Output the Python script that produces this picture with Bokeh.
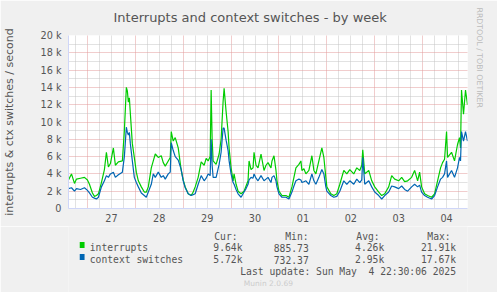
from datetime import datetime, timedelta
from bokeh.plotting import figure
from bokeh.layouts import column
from bokeh.models import FixedTicker, Range1d, Title
from bokeh.core.properties import value
from bokeh.embed import file_html
from bokeh.resources import INLINE

# ---------------- data ----------------
start = datetime(2025, 4, 26, 14, 30)   # left edge of the graph
span_hours = 200

# hours since start
hours = [0, 1.5, 3, 4, 6, 8, 9.5, 10.5, 12, 13,
         14, 15, 16.5, 18, 19, 20, 21, 22.5, 23.5, 25,
         27, 28, 29, 29.5, 30, 30.5, 31, 32, 33, 34,
         35, 36.5, 38, 39, 40, 41.5, 42.5, 43.5, 45, 46.5,
         47.5, 48.5, 50, 51, 51.5, 52.5, 53.5, 55, 56.5, 57.5,
         58.5, 60, 61.5, 62.5, 63.5, 65, 66.5, 68, 69, 70,
         71, 71.5, 72, 72.5, 74, 75.5, 76.5, 77.5, 78, 79,
         80, 80.5, 81.5, 82.5, 83, 84, 85, 86.5, 88, 89,
         90, 90.5, 91.5, 92.5, 93, 94, 95, 96.5, 98, 99,
         100, 101.5, 102, 103, 104, 104.5, 105.5, 107, 109, 110.5,
         112, 113, 114, 115.5, 116.5, 117, 118, 119, 120.5, 122,
         123, 124, 125.5, 127, 128, 129, 129.5, 131.5, 133, 134.5,
         136, 138, 139.5, 141, 143, 144.5, 146, 147, 147.5, 148.5,
         150.5, 152, 153.5, 155.5, 157, 158.5, 160.5, 162, 163.5, 165.5,
         167, 168.5, 170, 172, 173.5, 175, 176, 177, 178.5, 180,
         182, 183.5, 185, 186.5, 187.5, 188.5, 189.5, 190, 192, 193.5,
         195, 196, 196.5, 197, 198, 199, 200]

# thousands per second
interrupts_k = [3.3, 4.0, 2.9, 3.4, 3.5, 3.6, 3.3, 2.8, 1.8, 1.4,
                1.5, 1.7, 3.0, 4.5, 6.5, 4.8, 5.2, 7.0, 5.0, 5.4,
                5.5, 9.0, 14.0, 13.6, 12.3, 12.8, 11.0, 7.5, 5.9, 4.2,
                3.2, 2.5, 1.9, 1.9, 2.5, 4.7, 5.5, 6.3, 5.9, 6.1,
                5.3, 4.9, 5.5, 5.9, 8.9, 7.8, 8.2, 7.0, 4.4, 3.3,
                2.5, 1.7, 1.5, 1.9, 2.5, 3.6, 5.4, 5.0, 5.8, 5.5,
                6.0, 13.7, 8.0, 5.5, 5.1, 6.3, 8.0, 12.4, 13.9, 11.2,
                8.9, 7.0, 4.7, 3.2, 4.0, 2.8, 2.0, 1.7, 2.0, 2.6,
                3.2, 5.5, 4.5, 4.7, 6.5, 5.0, 4.7, 6.3, 4.4, 5.0,
                5.3, 4.7, 5.5, 6.1, 4.4, 3.2, 2.0, 1.5, 1.5, 1.3,
                2.5, 3.6, 4.7, 5.1, 5.5, 4.4, 4.6, 4.0, 4.4, 6.1,
                4.4, 4.0, 5.5, 7.0, 5.9, 3.6, 2.5, 1.7, 1.5, 1.7,
                2.8, 4.4, 4.0, 4.5, 4.0, 4.7, 4.4, 5.0, 6.8, 4.0,
                4.4, 3.2, 2.5, 1.9, 1.5, 1.7, 2.5, 3.8, 3.4, 3.2,
                3.6, 3.1, 3.2, 3.6, 4.4, 3.2, 4.2, 2.5, 1.7, 1.5,
                1.3, 1.7, 3.2, 4.7, 5.3, 5.7, 8.9, 5.9, 6.5, 5.5,
                7.4, 8.2, 7.0, 13.7, 10.9, 13.7, 12.0]

context_switches_k = [2.3, 2.4, 2.0, 2.3, 2.2, 2.4, 2.1, 1.8, 1.3, 1.2,
                      1.1, 1.3, 2.5, 3.2, 3.8, 3.6, 4.0, 4.2, 3.6, 3.9,
                      4.2, 6.0, 9.4, 8.8, 8.5, 8.8, 7.5, 5.5, 3.6, 3.0,
                      2.5, 1.8, 1.5, 1.3, 1.9, 2.8, 4.0, 3.6, 4.2, 3.6,
                      3.8, 3.4, 4.0, 4.2, 7.6, 6.7, 6.0, 5.6, 4.5, 3.2,
                      2.4, 1.7, 1.5, 1.6, 1.7, 2.8, 3.8, 3.2, 3.5, 4.0,
                      3.8, 8.0, 5.0, 3.6, 3.6, 5.1, 6.5, 9.3, 9.3, 7.9,
                      6.7, 5.5, 4.0, 3.0, 2.8, 2.2, 1.7, 1.3, 1.9, 2.3,
                      2.8, 3.3, 3.6, 3.5, 4.0, 3.5, 3.2, 3.8, 3.2, 3.4,
                      3.6, 3.0, 3.6, 3.8, 3.2, 2.5, 1.7, 1.3, 1.3, 1.1,
                      1.9, 2.6, 3.2, 3.4, 3.3, 3.0, 3.1, 3.2, 2.8, 4.0,
                      3.2, 2.8, 3.6, 4.5, 4.0, 2.5, 2.0, 1.5, 1.3, 1.4,
                      2.0, 3.2, 2.8, 3.2, 2.8, 3.4, 3.0, 3.3, 5.9, 2.8,
                      3.2, 2.5, 1.9, 1.5, 1.1, 1.5, 1.9, 2.6, 2.5, 2.3,
                      2.6, 2.2, 2.0, 2.5, 2.8, 2.5, 2.7, 1.9, 1.5, 1.3,
                      1.1, 1.5, 2.5, 3.4, 3.6, 4.0, 5.5, 3.6, 4.4, 3.6,
                      4.7, 5.9, 5.5, 8.9, 7.8, 8.9, 7.8]

day_dates = [datetime(2025, 4, 27), datetime(2025, 4, 28), datetime(2025, 4, 29),
             datetime(2025, 4, 30), datetime(2025, 5, 1), datetime(2025, 5, 2),
             datetime(2025, 5, 3), datetime(2025, 5, 4)]
day_labels = ["27", "28", "29", "30", "01", "02", "03", "04"]

y_ticks = [0, 2, 4, 6, 8, 10, 12, 14, 16, 18, 20]
y_tick_labels = ["0", "2 k", "4 k", "6 k", "8 k", "10 k", "12 k", "14 k", "16 k", "18 k", "20 k"]

series_names = ["interrupts", "context switches"]
series_colors = ["#00CC00", "#0066B3"]
column_heads = ["Cur:", "Min:", "Avg:", "Max:"]
cur_vals = ["9.64k", "5.72k"]
min_vals = ["885.73", "732.37"]
avg_vals = ["4.26k", "2.95k"]
max_vals = ["21.91k", "17.67k"]

title_text = "Interrupts and context switches - by week"
y_label_text = "interrupts & ctx switches / second"
side_text = "RRDTOOL / TOBI OETIKER"
last_update = "Last update: Sun May \u00a04 22:30:06 2025"
footer_text = "Munin 2.0.69"

# ---------------- derived tick positions (hours since start) ----------------
def h(dt):
    return (dt - start).total_seconds() / 3600.0

noons = [h(d + timedelta(hours=12)) for d in day_dates]
midnights = [h(d) for d in day_dates]
six_hourly = []
for d in [datetime(2025, 4, 26)] + day_dates:
    for off in (6, 12, 18):
        v = h(d + timedelta(hours=off))
        if 0 <= v <= span_hours:
            six_hourly.append(v)

# ---------------- styling ----------------
FONT = "DejaVu Sans"
MONO = "DejaVu Sans Mono"
TXT = "#555555"
AXIS = "#CFD6F8"
BACK = "#F0F0F0"

W = 497
H_MAIN = 226
H_LEG = 292 - H_MAIN

# ---------------- main chart ----------------
p = figure(width=W, height=H_MAIN, x_range=Range1d(0, span_hours), y_range=Range1d(0, 20),
           output_backend="svg", toolbar_location=None, title=title_text,
           min_border_left=67, min_border_right=30, min_border_top=33, min_border_bottom=18,
           background_fill_color="#FFFFFF", border_fill_color=BACK,
           outline_line_color=None)

p.title.align = "left"
p.title.offset = 45
p.title.vertical_align = "top"
p.title.standoff = 18
p.title.text_font = FONT
p.title.text_font_size = "13px"
p.title.text_font_style = "normal"
p.title.text_color = TXT

side = Title(text=side_text, align="left", offset=-28, standoff=15,
             text_font=FONT, text_font_size="7.8px", text_font_style="normal",
             text_color="#BBBBBB")
p.add_layout(side, "right")

# grids
p.xgrid.ticker = FixedTicker(ticks=midnights, minor_ticks=six_hourly)
p.ygrid.ticker = FixedTicker(ticks=y_ticks, minor_ticks=[v + 1 for v in y_ticks[:-1]])
for g in (p.xgrid, p.ygrid):
    g.grid_line_color = "#E39A9A"
    g.grid_line_dash = "1 1"
    g.grid_line_width = 1
    g.minor_grid_line_color = "#C4C4C4"
    g.minor_grid_line_dash = "1 1"
    g.minor_grid_line_width = 1

# axes
p.xaxis.ticker = FixedTicker(ticks=noons)
p.xaxis.major_label_overrides = {n: lab for n, lab in zip(noons, day_labels)}
p.yaxis.ticker = FixedTicker(ticks=y_ticks)
p.yaxis.major_label_overrides = {t: lab for t, lab in zip(y_ticks, y_tick_labels)}
for ax in (p.xaxis, p.yaxis):
    ax.axis_line_color = AXIS
    ax.axis_line_width = 1
    ax.major_tick_line_color = None
    ax.minor_tick_line_color = None
    ax.major_tick_in = 0
    ax.major_tick_out = 0
    ax.minor_tick_in = 0
    ax.minor_tick_out = 0
    ax.major_label_text_font = FONT
    ax.major_label_text_font_size = "9.7px"
    ax.major_label_text_color = TXT
p.xaxis.major_label_standoff = 5
p.yaxis.major_label_standoff = 7
p.yaxis.axis_label = y_label_text
p.yaxis.axis_label_text_font = FONT
p.yaxis.axis_label_text_font_size = "11px"
p.yaxis.axis_label_text_font_style = "normal"
p.yaxis.axis_label_text_color = TXT
p.yaxis.axis_label_standoff = 21

# series
p.line(hours, interrupts_k, line_color=series_colors[0], line_width=1.2)
p.line(hours, context_switches_k, line_color=series_colors[1], line_width=1.2)

# ---------------- legend block (pixel-space figure) ----------------
q = figure(width=W, height=H_LEG, x_range=Range1d(0, W), y_range=Range1d(H_LEG, 0),
           output_backend="svg", toolbar_location=None, title=None,
           x_axis_location=None, y_axis_location=None,
           min_border=0, min_border_left=0, min_border_right=0,
           min_border_top=0, min_border_bottom=0,
           background_fill_color=BACK, border_fill_color=BACK, outline_line_color=None)
q.grid.visible = False

top = H_MAIN
head_y = 235.8 - top
row_y = [247.3 - top, 259 - top]
upd_y = 271 - top
foot_y = 282.5 - top

col_left = [181.5, 270, 358.5, 447]
col_right = [216.7, 299.3, 393.3, 482.7]

q.text(x=col_left, y=[head_y] * 4, text=column_heads, text_font=value(MONO),
       text_font_size="9.7px", text_color=TXT, text_align="left", text_baseline="alphabetic")

q.rect(x=[17, 17], y=[244.5 - top, 256.5 - top], width=6, height=6,
       fill_color=series_colors, line_color=None)
q.text(x=[26.5, 26.5], y=row_y, text=series_names, text_font=value(MONO),
       text_font_size="9.7px", text_color=TXT, text_align="left", text_baseline="alphabetic")
for cx, vals in zip(col_right, [cur_vals, min_vals, avg_vals, max_vals]):
    q.text(x=[cx, cx], y=row_y, text=vals, text_font=value(MONO),
           text_font_size="9.7px", text_color=TXT, text_align="right",
           text_baseline="alphabetic")
q.text(x=[482.7], y=[upd_y], text=[last_update], text_font=value(MONO),
       text_font_size="9.7px", text_color=TXT, text_align="right", text_baseline="alphabetic")
q.text(x=[249], y=[foot_y], text=[footer_text], text_font=value(FONT),
       text_font_size="7.5px", text_color="#CCCCCC", text_align="center",
       text_baseline="alphabetic")

layout = column(p, q, spacing=0)
open("out.html", "w").write(file_html(layout, INLINE))
